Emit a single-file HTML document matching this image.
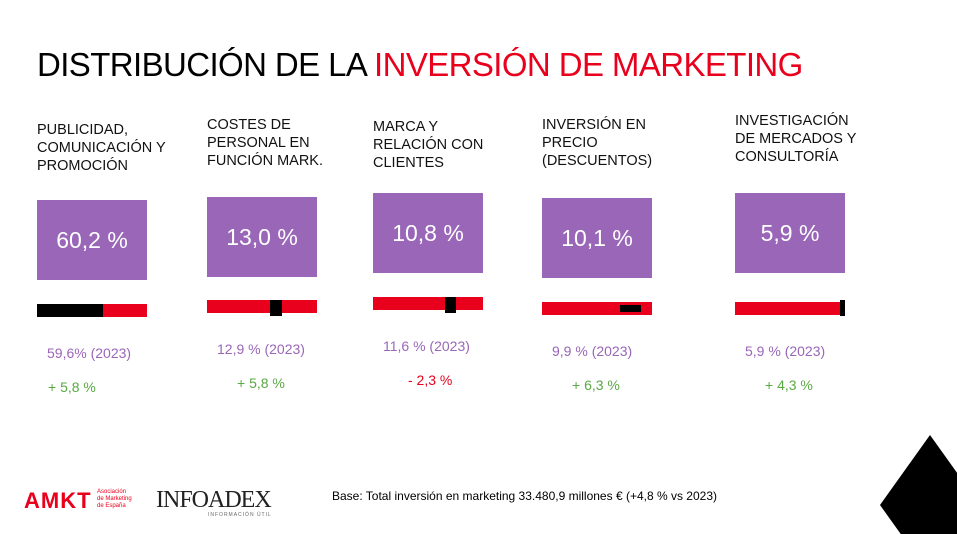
<!DOCTYPE html>
<html><head><meta charset="utf-8"><style>
html,body{margin:0;width:957px;height:534px;overflow:hidden}
body{background:#fff;position:relative;font-family:"Liberation Sans",Arial,sans-serif}
.a{position:absolute}
.lbl{font-size:14.5px;line-height:18px;color:#111}
.box{background:#9966b8;color:#fff;font-size:23px;display:flex;align-items:center;justify-content:center}
.prev{font-size:14px;color:#9966b8}
.chg{font-size:14px}
</style></head><body>
<div class="a" style="left:37px;top:46px;font-size:33px;letter-spacing:-0.6px;color:#000;white-space:nowrap">DISTRIBUCIÓN DE LA <span style="color:#e8001c">INVERSIÓN DE MARKETING</span></div>
<div id="root"></div>
<div class="a" style="left:332px;top:489px;font-size:12px;color:#000">Base: Total inversión en marketing 33.480,9 millones € (+4,8 % vs 2023)</div>
<div class="a" style="left:24px;top:488px;font-size:22px;font-weight:bold;color:#e8001c;letter-spacing:1px">AMKT</div>
<div class="a" style="left:97px;top:489px;font-size:6px;line-height:7px;color:#e8001c">Asociación<br>de Marketing<br>de España</div>
<div class="a" style="left:156px;top:487px;font-family:'Liberation Serif',serif;font-size:24px;color:#222;letter-spacing:-1px">INFOADEX</div>
<div class="a" style="left:208px;top:512px;font-size:5px;color:#666;letter-spacing:1px">INFORMACIÓN ÚTIL</div>
<svg class="a" style="left:880px;top:435px;display:block" width="77" height="99"><polygon points="50,0 100,70 50,140 0,70" fill="#000"/></svg>
<script>
const categories=["PUBLICIDAD,<br>COMUNICACIÓN Y<br>PROMOCIÓN","COSTES DE<br>PERSONAL EN<br>FUNCIÓN MARK.","MARCA Y<br>RELACIÓN CON<br>CLIENTES","INVERSIÓN EN<br>PRECIO<br>(DESCUENTOS)","INVESTIGACIÓN<br>DE MERCADOS Y<br>CONSULTORÍA"];
const shares=[60.2,13.0,10.8,10.1,5.9];
const markerFrac=[0,0.63,0.70,0.80,0.98];
const prevLabels=["59,6% (2023)","12,9 % (2023)","11,6 % (2023)","9,9 % (2023)","5,9 % (2023)"];
const changes=[5.8,5.8,-2.3,6.3,4.3];
const changeLabels=["+ 5,8 %","+ 5,8 %","- 2,3 %","+ 6,3 %","+ 4,3 %"];
const cols=[{x:37,lt:121,by:200,ry:304},{x:207,lt:116,by:197,ry:300},{x:373,lt:118,by:193,ry:297},{x:542,lt:116,by:198,ry:302},{x:735,lt:112,by:193,ry:302}];
const fmt=v=>v.toFixed(1).replace('.',',')+' %';
const root=document.getElementById('root');
function mk(cls,style,html){const d=document.createElement('div');d.className='a '+cls;d.style.cssText=style;if(html!=null)d.innerHTML=html;root.appendChild(d);return d;}
const W=110;
shares.forEach((v,i)=>{
 const c=cols[i];
 let e=mk('lbl',`left:${c.x}px;top:${c.lt}px`,categories[i]);
 
 
 e=mk('box',`left:${c.x}px;top:${c.by}px;width:${W}px;height:80px`,fmt(v));
 
 
 e=mk('',`left:${c.x}px;top:${c.ry}px;width:${W}px;height:13px;background:#e8001c`);
 
 
 let mw,mx,mh,my;
 if(i===0){mx=c.x;mw=W*v/100;my=c.ry;mh=13;}
 else{
  mw=[0,12,11,21,5][i];
  mx=c.x+W*markerFrac[i]-mw/2;
  if(mx+mw>c.x+W)mx=c.x+W-mw;
  mh=i===3?7:16;my=i===3?c.ry+3:c.ry-(i===2?0:(i===4?2:0));
 }
 e=mk('',`left:${mx}px;top:${my}px;width:${mw}px;height:${mh}px;background:#000`);
 
 
 e=mk('prev',`left:${c.x+10}px;top:${c.ry+41}px`,prevLabels[i]);
 
 
 e=mk('chg',`left:${c.x+(i===0?11:i===2?35:30)}px;top:${c.ry+75}px;color:${changes[i]<0?'#e8001c':'#5aa843'}`,changeLabels[i]);
 
 
});
</script>
</body></html>
